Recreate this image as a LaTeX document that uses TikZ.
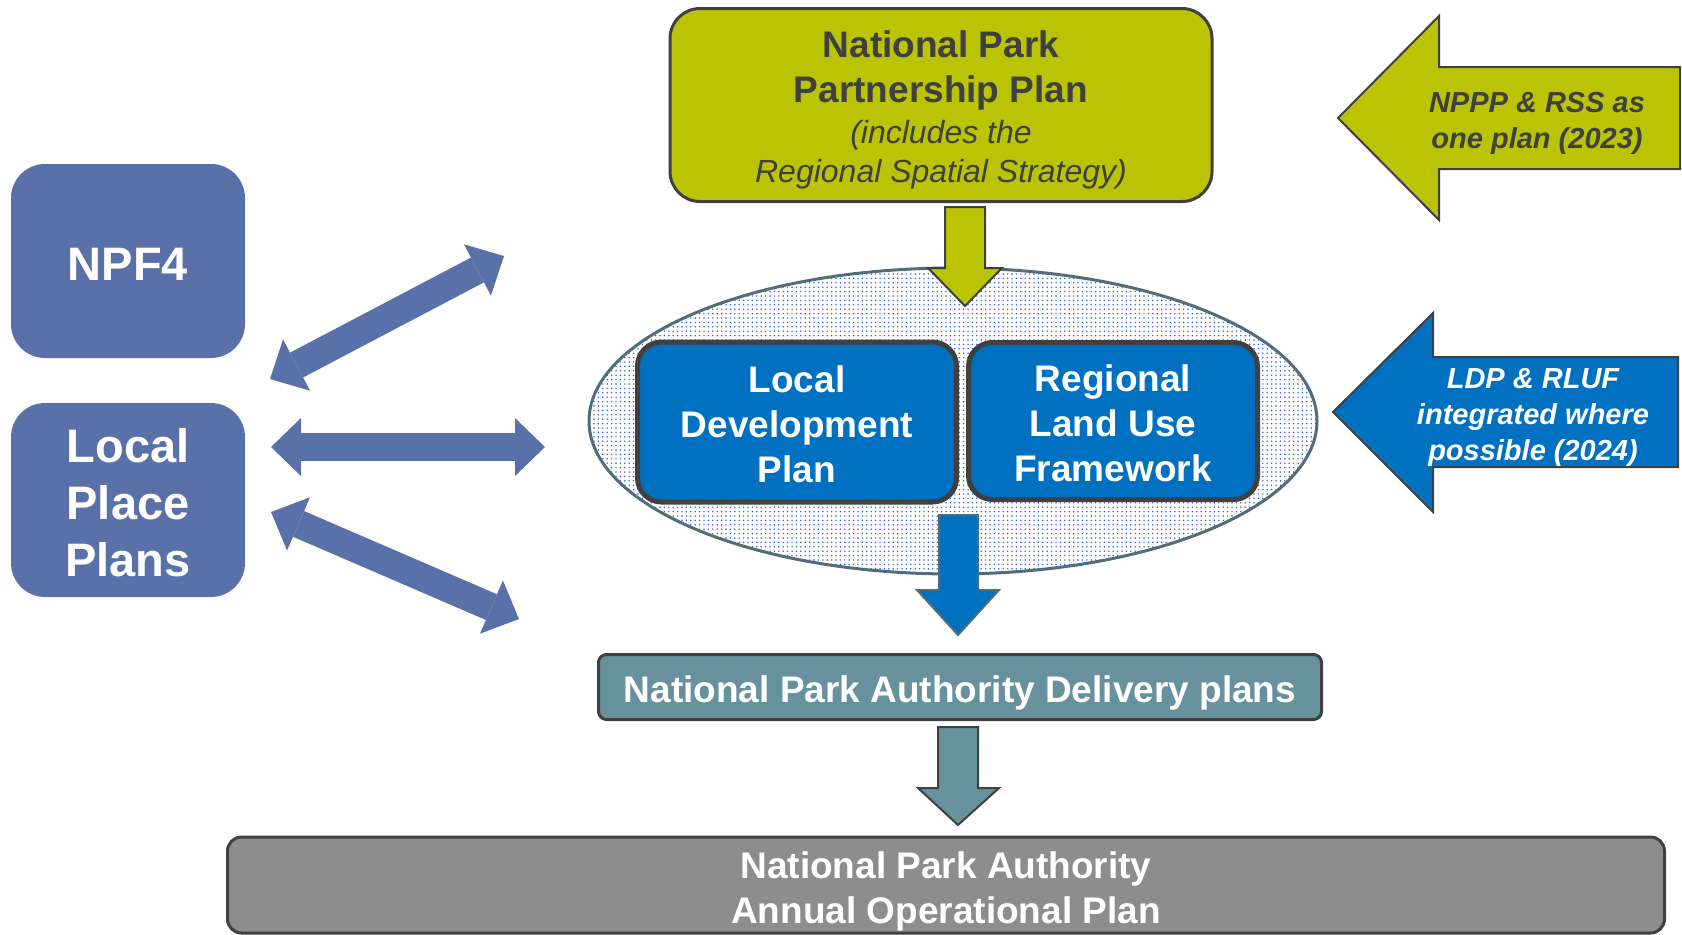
\documentclass[tikz,border=0pt]{standalone}
\usepackage{fontspec}
\setmainfont{Liberation Sans}
\usetikzlibrary{arrows.meta,patterns.meta}
\definecolor{npgreen}{RGB}{186,196,5}
\definecolor{npblue}{RGB}{0,112,192}
\definecolor{slate}{RGB}{90,112,168}
\definecolor{delteal}{RGB}{104,145,158}
\definecolor{boxgrey}{RGB}{141,141,141}
\definecolor{edgegrey}{RGB}{64,64,64}
\definecolor{rimgrey}{RGB}{80,110,122}
\definecolor{dotblue}{RGB}{45,85,210}
% strut that pushes a node's text a little lower
\newcommand{\dropstrut}[1]{\rule{0pt}{#1}}
\begin{document}
\begin{tikzpicture}[x=0.5pt,y=-0.5pt,
    plan/.style={rounded corners=12pt, draw=edgegrey, line width=2.5pt, fill=npblue,
      text=white, font=\bfseries\fontsize{18.5}{22.5}\selectfont, align=center, inner sep=0pt},
    side/.style={rounded corners=17pt, fill=slate, text=white, align=center, inner sep=0pt,
      font=\bfseries\fontsize{23.5}{28.5}\selectfont, minimum width=117pt, minimum height=97pt},
    link/.style={draw=slate, line width=14pt,
      {Triangle[length=15pt,width=29pt,line width=0pt]}-{Triangle[length=15pt,width=29pt,line width=0pt]}},
    blockarrow/.style={draw=edgegrey, line width=1pt, line join=miter},
    note/.style={font=\bfseries\itshape\fontsize{14.5}{18}\selectfont, align=center}]
  \useasboundingbox (0,0) rectangle (1682,934);

  % partnership plan and its callout
  \node[draw=edgegrey, line width=1.5pt, fill=npgreen, rounded corners=15pt, inner sep=0pt,
    minimum width=271pt, minimum height=96.5pt, align=center, text=edgegrey,
    font=\bfseries\fontsize{18.5}{22.5}\selectfont] (nppp) at (941,105)
    {\dropstrut{18.5pt}National Park\\Partnership Plan\\[-2pt]
     {\mdseries\itshape\fontsize{16}{20}\selectfont (includes the}\\[-3pt]
     {\mdseries\itshape\fontsize{16}{20}\selectfont Regional Spatial Strategy)}};
  \draw[blockarrow, fill=npgreen] (1338,118) -- (1439,16) -- (1439,67) -- (1680,67)
    -- (1680,169) -- (1439,169) -- (1439,220) -- cycle;
  \node[note, text=edgegrey] (rss) at (1537,120)
    {\dropstrut{13.8pt}NPPP \& RSS as\\one plan (2023)};

  % dotted frame round LDP and RLUF
  \draw[draw=rimgrey, line width=1.5pt, pattern={Dots[distance=2.2pt,radius=0.4pt]},
    pattern color=dotblue] (953,421) ellipse [x radius=182pt, y radius=76.5pt];
  \draw[blockarrow, fill=npgreen] (945,207) -- (945,268) -- (928,268) -- (965,306)
    -- (1002,268) -- (985,268) -- (985,207) -- cycle;

  \node[plan, minimum width=159.5pt, minimum height=80pt] (ldp) at (797,422)
    {\dropstrut{15.6pt}Local\\Development\\Plan};
  \node[plan, minimum width=144.5pt, minimum height=78.5pt] (rluf) at (1113,421)
    {\dropstrut{15.6pt}Regional\\Land Use\\Framework};

  \draw[blockarrow, fill=npblue] (1333,412) -- (1433,313) -- (1433,357) -- (1678,357)
    -- (1678,467) -- (1433,467) -- (1433,512) -- cycle;
  \node[note, text=white] (ldprluf) at (1533,415)
    {\dropstrut{12.2pt}LDP \& RLUF\\integrated where\\possible (2024)};

  % down to delivery and operational plans
  \draw[blockarrow, draw=rimgrey, fill=npblue] (939,515) -- (939,590) -- (917,590)
    -- (958,635) -- (999,590) -- (978,590) -- (978,515) -- cycle;
  \node[draw=edgegrey, line width=1.5pt, fill=delteal, rounded corners=4pt, inner sep=0pt,
    minimum width=361.5pt, minimum height=32.5pt, text=white,
    font=\bfseries\fontsize{18.5}{22.5}\selectfont] (deliv) at (960,687)
    {\dropstrut{18.9pt}National Park Authority Delivery plans};
  \draw[blockarrow, fill=delteal] (938,727) -- (938,788) -- (918,788) -- (958,825)
    -- (999,788) -- (978,788) -- (978,727) -- cycle;
  \node[draw=edgegrey, line width=1.5pt, fill=boxgrey, rounded corners=7pt, inner sep=0pt,
    minimum width=718.5pt, minimum height=48pt, text=white, align=center,
    font=\bfseries\fontsize{18.5}{22.5}\selectfont] (annual) at (946,885)
    {\dropstrut{19.9pt}National Park Authority\\Annual Operational Plan};

  % national and local inputs
  \node[side] (npf) at (128,261) {\dropstrut{19pt}NPF4};
  \node[side] (lpp) at (128,500) {\dropstrut{19.3pt}Local\\Place\\Plans};
  \coordinate (a1) at (270,379);
  \coordinate (b1) at (504,256);
  \coordinate (a2) at (271,447);
  \coordinate (b2) at (545,447);
  \coordinate (a3) at (271,512);
  \coordinate (b3) at (519,619);
  \draw[link] (a1) -- (b1);
  \draw[link] (a2) -- (b2);
  \draw[link] (a3) -- (b3);
\end{tikzpicture}
\end{document}
